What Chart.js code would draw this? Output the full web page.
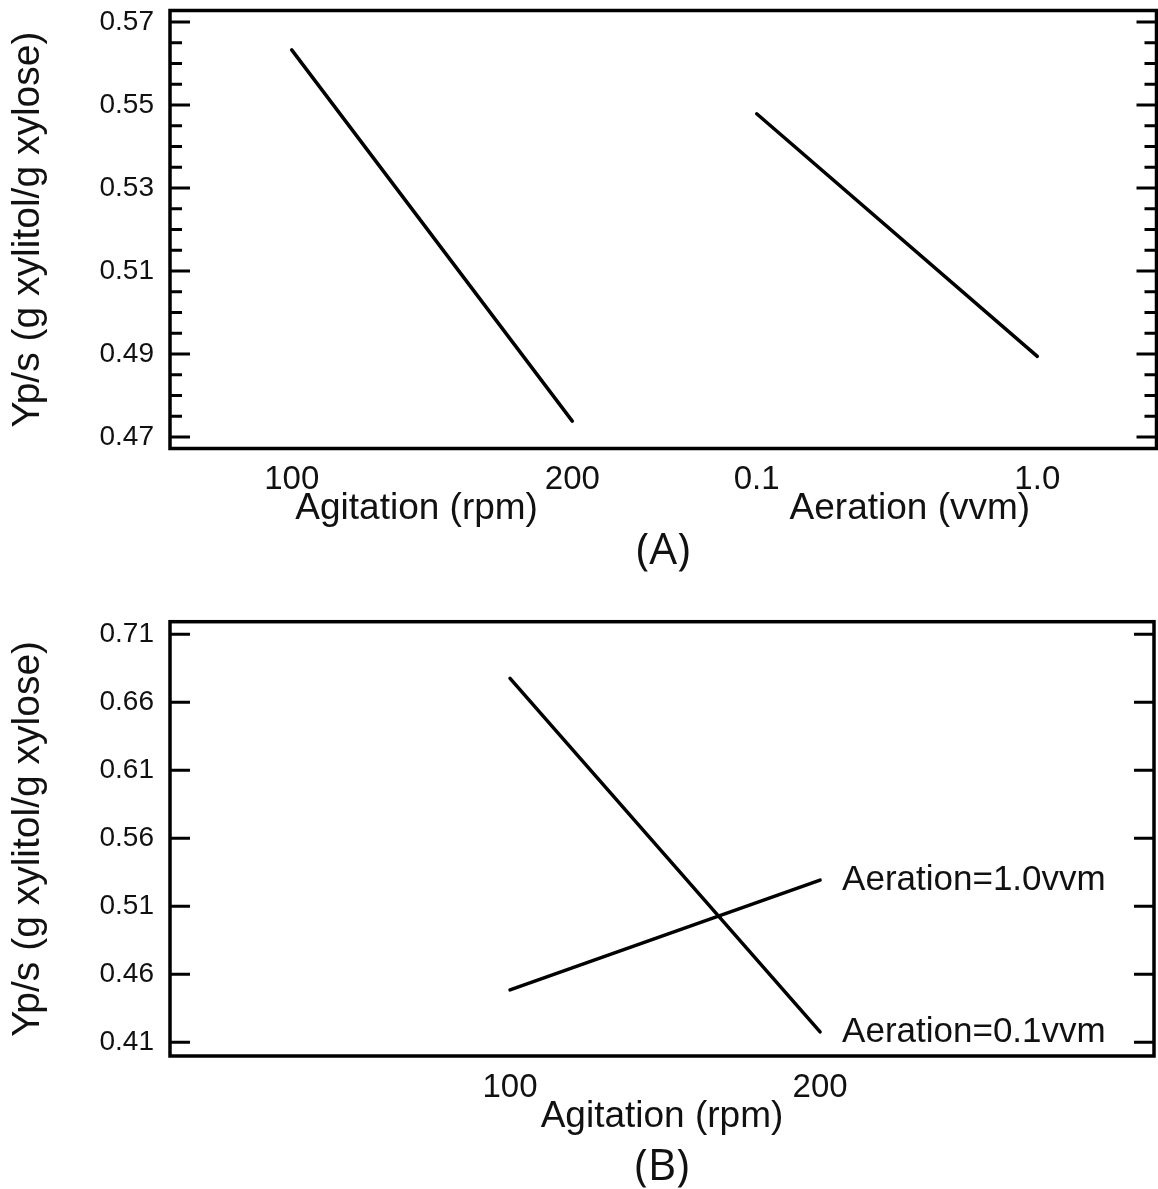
<!DOCTYPE html>
<html><head><meta charset="utf-8">
<script src="https://cdn.jsdelivr.net/npm/chart.js@4/dist/chart.umd.min.js"></script>
<style>
html,body{margin:0;padding:0;background:#fff;}
#wrap{width:1158px;height:1189px;position:relative;overflow:hidden;}
.box{position:absolute;left:0;width:1158px;}
#boxA{top:0;height:595px;}
#boxB{top:595px;height:594px;}
</style></head><body>
<div id="wrap"><div class="box" id="boxA"><canvas id="cA"></canvas></div><div class="box" id="boxB"><canvas id="cB"></canvas></div></div>
<script>
// ---- data ----
const agitationLevels = [100, 200];
const aerationLevels = [0.1, 1.0];
const ypsVsAgitation = [0.5633, 0.4738];
const ypsVsAeration = [0.5479, 0.4894];
const ypsAer01 = [0.6776, 0.4176];
const ypsAer10 = [0.4485, 0.5293];
const topYTicks = [0.47, 0.49, 0.51, 0.53, 0.55, 0.57];
const bottomYTicks = [0.41, 0.46, 0.51, 0.56, 0.61, 0.66, 0.71];
const agitationTickLabels = ['100', '200'];
const aerationTickLabels = ['0.1', '1.0'];
const seriesLabelsB = ['Aeration=0.1vvm', 'Aeration=1.0vvm'];
const yTitle = 'Yp/s (g xylitol/g xylose)';
const panelTitles = ['(A)', '(B)'];

// minor tick positions for top panel (every 0.005)
const topYMinor = [];
for (let i = 0; i < topYTicks.length - 1; i++) {
  for (let k = 1; k < 4; k++) topYMinor.push(+(topYTicks[i] + k * 0.005).toFixed(3));
}

const FONT = '"Liberation Sans", Arial, sans-serif';
const PANEL_FONT = '"Open Sans", "Noto Sans", sans-serif';
const INK = '#111';
Chart.defaults.font.family = FONT;
Chart.defaults.color = INK;

const pts = (xs, ys) => xs.map((x, i) => ({x, y: ys[i]}));

const framePlugin = {
  id: 'frame',
  afterDatasetsDraw(chart, args, opts) {
    const {ctx, chartArea: a} = chart;
    const y = chart.scales.y;
    ctx.save();
    ctx.strokeStyle = '#000';
    ctx.lineWidth = 3.5;
    ctx.strokeRect(a.left, a.top, a.right - a.left, a.bottom - a.top);
    ctx.lineWidth = 3;
    const tick = (v, len) => {
      const p = y.getPixelForValue(v);
      ctx.beginPath();
      ctx.moveTo(a.left, p); ctx.lineTo(a.left + len, p);
      ctx.moveTo(a.right, p); ctx.lineTo(a.right - len, p);
      ctx.stroke();
    };
    (opts.major || []).forEach(v => tick(v, 20));
    (opts.minor || []).forEach(v => tick(v, 12));
    if (opts.seriesLabels) {
      ctx.fillStyle = INK;
      ctx.font = '35px ' + FONT;
      ctx.textAlign = 'left';
      ctx.textBaseline = 'middle';
      chart.data.datasets.forEach((ds, i) => {
        const meta = chart.getDatasetMeta(i);
        const last = meta.data[meta.data.length - 1];
        ctx.fillText(opts.seriesLabels[i], last.x + 22, last.y);
      });
    }
    ctx.restore();
  }
};

const lineDs = (data, xAxisID) => ({
  data, xAxisID, yAxisID: 'y', borderColor: '#000', borderWidth: 3.5,
  pointRadius: 0, fill: false, tension: 0, borderCapStyle: 'round'
});

const xAxis = (levels, labels, min, max, title, extra) => Object.assign({
  type: 'linear', position: 'bottom', min, max,
  afterBuildTicks: s => { s.ticks = levels.map(v => ({value: v})); },
  afterFit: s => { s.height = 78; s.paddingLeft = 0; s.paddingRight = 0; },
  ticks: {callback: (v, i) => labels[i], font: {size: 33}, padding: 12, maxRotation: 0, minRotation: 0, autoSkip: false, color: INK},
  grid: {display: false, drawTicks: false},
  border: {display: false},
  title: {display: true, text: title, font: {size: 37, lineHeight: 0.95}, padding: {top: 0, bottom: 0}, color: INK}
}, extra || {});

const yAxis = (ticks, min, max) => ({
  type: 'linear', position: 'left', min, max,
  afterBuildTicks: s => { s.ticks = ticks.map(v => ({value: v})); },
  afterFit: s => { s.width = 170; s.paddingTop = 0; s.paddingBottom = 0; },
  ticks: {callback: v => v.toFixed(2), font: {size: 28}, padding: 16, color: INK},
  grid: {display: false, drawTicks: false},
  border: {display: false},
  title: {display: true, text: yTitle, font: {size: 39, lineHeight: 1.2}, padding: {top: 5, bottom: 0}, color: INK}
});

const panelTitle = (text, pad) => ({
  display: true, position: 'bottom', fullSize: false, text,
  font: {family: PANEL_FONT, size: 44, weight: 'normal', lineHeight: 1},
  padding: pad, color: INK
});

new Chart(document.getElementById('cA'), {
  type: 'line',
  data: {datasets: [
    lineDs(pts(agitationLevels, ypsVsAgitation), 'x'),
    lineDs(pts(aerationLevels, ypsVsAeration), 'x2')
  ]},
  options: {
    responsive: true, maintainAspectRatio: false, animation: false,
    layout: {padding: {top: 10.5, right: 1.5, left: 0, bottom: 0}},
    scales: {
      x: xAxis(agitationLevels, agitationTickLabels, 56.63, 232.41, 'Agitation (rpm)', {stack: 'f', stackWeight: 1}),
      x2: xAxis(aerationLevels, aerationTickLabels, -0.1997, 1.3823, 'Aeration (vvm)', {stack: 'f', stackWeight: 1}),
      y: yAxis(topYTicks, 0.4672, 0.5728)
    },
    plugins: {
      legend: {display: false}, tooltip: {enabled: false},
      title: panelTitle(panelTitles[0], {top: 2.5, bottom: 22}),
      frame: {major: topYTicks, minor: topYMinor}
    }
  },
  plugins: [framePlugin]
});

new Chart(document.getElementById('cB'), {
  type: 'line',
  data: {datasets: [
    lineDs(pts(agitationLevels, ypsAer01), 'x'),
    lineDs(pts(agitationLevels, ypsAer10), 'x')
  ]},
  options: {
    responsive: true, maintainAspectRatio: false, animation: false,
    layout: {padding: {top: 26.7, right: 4, left: 0, bottom: 0}},
    scales: {
      x: xAxis(agitationLevels, agitationTickLabels, -9.68, 307.7, 'Agitation (rpm)'),
      y: yAxis(bottomYTicks, 0.3999, 0.7193)
    },
    plugins: {
      legend: {display: false}, tooltip: {enabled: false},
      title: panelTitle(panelTitles[1], {top: 11, bottom: 0}),
      frame: {major: bottomYTicks, seriesLabels: seriesLabelsB}
    }
  },
  plugins: [framePlugin]
});
</script>
</body></html>
